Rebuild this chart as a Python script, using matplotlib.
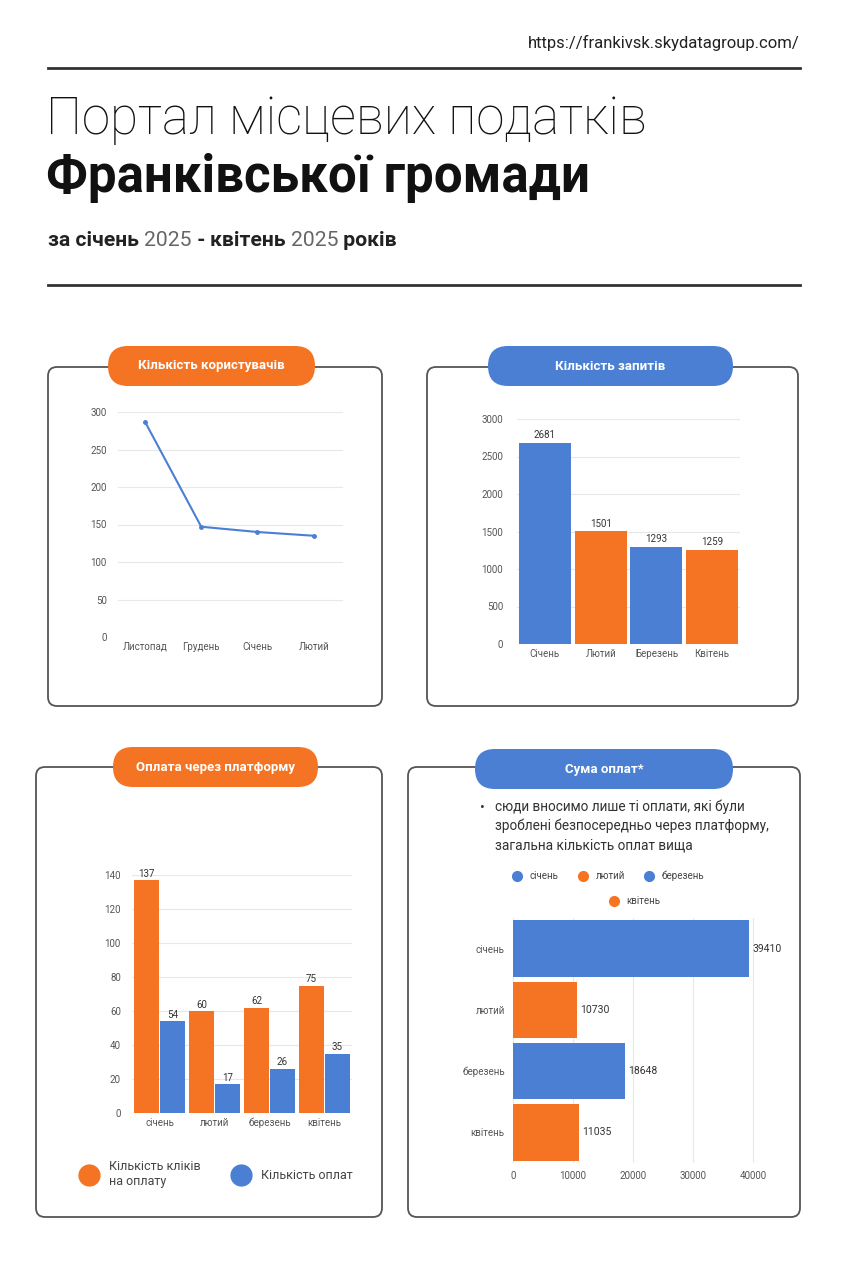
import matplotlib.pyplot as plt
from matplotlib.patches import FancyBboxPatch
from matplotlib.lines import Line2D

# data
users_months = ['Листопад', 'Грудень', 'Січень', 'Лютий']
users = [287, 147, 140, 135]

req_months = ['Січень', 'Лютий', 'Березень', 'Квітень']
requests = [2681, 1501, 1293, 1259]

pay_months = ['січень', 'лютий', 'березень', 'квітень']
clicks = [137, 60, 62, 75]
payments = [54, 17, 26, 35]

sum_months = ['січень', 'лютий', 'березень', 'квітень']
sums = [39410, 10730, 18648, 11035]

BLUE = '#4a7fd4'
ORANGE = '#f47423'
GRID = '#e8e8e8'
TICK = '#555555'
W, H = 853, 1280

plt.rcParams['font.family'] = ['Roboto', 'DejaVu Sans']

fig = plt.figure(figsize=(W / 100, H / 100), dpi=100)
bg = fig.add_axes([0, 0, 1, 1])
bg.set_xlim(0, W)
bg.set_ylim(H, 0)
bg.axis('off')


def px_axes(x0, y0, x1, y1):
    # pixel box (from top left) -> axes
    return fig.add_axes([x0 / W, 1 - y1 / H, (x1 - x0) / W, (y1 - y0) / H])


def panel(x0, y0, x1, y1, px0, px1, py0, color, title):
    bg.add_patch(FancyBboxPatch((x0, y0), x1 - x0, y1 - y0,
                                boxstyle='round,pad=0,rounding_size=9',
                                fc='white', ec='#555555', lw=1.3))
    bg.add_patch(FancyBboxPatch((px0, py0), px1 - px0, 40,
                                boxstyle='round,pad=0,rounding_size=20',
                                fc=color, ec='none'))
    bg.text((px0 + px1) / 2, py0 + 20, title, color='white', fontsize=9.5,
            fontweight='bold', ha='center', va='center')


def style(ax, axis='y'):
    for s in ax.spines.values():
        s.set_visible(False)
    ax.tick_params(length=0, labelsize=7, colors=TICK)
    ax.grid(axis=axis, color=GRID, lw=0.8)
    ax.set_axisbelow(True)


# header
bg.text(800, 43, 'https://frankivsk.skydatagroup.com/', fontsize=12,
        color='#222222', ha='right', va='center')
bg.plot([48, 800], [68, 68], color='#333333', lw=2)
bg.plot([48, 800], [285, 285], color='#333333', lw=2)
bg.text(46, 134, 'Портал місцевих податків', fontsize=36.8, fontweight='light',
        color='#111111', va='baseline')
bg.text(46, 192, 'Франківської громади', fontsize=36.8, fontweight='bold',
        color='#111111', va='baseline')

renderer = fig.canvas.get_renderer()
x = 48
parts = [('за січень ', 'bold', '#222222'), ('2025', 'normal', '#666666'),
         (' - ', 'bold', '#222222'), ('квітень ', 'bold', '#222222'),
         ('2025', 'normal', '#666666'), (' років', 'bold', '#222222')]
for s, w, c in parts:
    t = bg.text(x, 246, s, fontsize=15.2, fontweight=w, color=c, va='baseline')
    bb = t.get_window_extent(renderer)
    x += bb.width

# panels
panel(48, 367, 382, 706, 108, 315, 346, ORANGE, 'Кількість користувачів')
panel(427, 367, 798, 706, 488, 733, 346, BLUE, 'Кількість запитів')
panel(36, 767, 382, 1217, 113, 318, 747, ORANGE, 'Оплата через платформу')
panel(408, 767, 800, 1217, 475, 733, 749, BLUE, 'Сума оплат*')

# users line
ax1 = px_axes(118, 412, 343, 637)
style(ax1)
ax1.plot(range(len(users)), users, color=BLUE, lw=1.5, marker='o', ms=2.5)
ax1.set_ylim(0, 300)
ax1.set_yticks(range(0, 301, 50))
ax1.set_xlim(-0.48, 3.52)
ax1.set_xticks(range(len(users_months)))
ax1.set_xticklabels(users_months)
ax1.tick_params(axis='y', pad=8)

# requests bars
ax2 = px_axes(517, 419, 740, 644)
style(ax2)
cols = [BLUE, ORANGE, BLUE, ORANGE]
b = ax2.bar(range(len(requests)), requests, width=0.93, color=cols)
ax2.bar_label(b, fontsize=7, color='#333333', padding=2)
ax2.set_ylim(0, 3000)
ax2.set_yticks(range(0, 3001, 500))
ax2.set_xlim(-0.5, 3.5)
ax2.set_xticks(range(len(req_months)))
ax2.set_xticklabels(req_months)
ax2.tick_params(axis='y', pad=10)

# payments grouped bars
ax3 = px_axes(132, 875, 352, 1113)
style(ax3)
xs = range(len(pay_months))
b1 = ax3.bar([i - 0.235 for i in xs], clicks, width=0.45, color=ORANGE)
b2 = ax3.bar([i + 0.235 for i in xs], payments, width=0.45, color=BLUE)
ax3.bar_label(b1, fontsize=7, color='#333333', padding=1)
ax3.bar_label(b2, fontsize=7, color='#333333', padding=1)
ax3.set_ylim(0, 140)
ax3.set_yticks(range(0, 141, 20))
ax3.set_xlim(-0.5, 3.5)
ax3.set_xticks(list(xs))
ax3.set_xticklabels(pay_months)
ax3.tick_params(axis='y', pad=8)
h3 = [Line2D([], [], ls='none', marker='o', ms=15, color=ORANGE),
      Line2D([], [], ls='none', marker='o', ms=15, color=BLUE)]
fig.legend(h3, ['Кількість кліків\nна оплату', 'Кількість оплат'], ncol=2,
           loc='upper left', bbox_to_anchor=(72 / W, 1 - 1155 / H),
           frameon=False, fontsize=9, labelcolor='#444444',
           handletextpad=0.6, columnspacing=2.2, borderaxespad=0)

# sums horizontal bars
bg.text(480, 808, '•', fontsize=10, color='#333333', va='center')
bg.text(495, 799, 'сюди вносимо лише ті оплати, які були\n'
        'зроблені безпосередньо через платформу,\n'
        'загальна кількість оплат вища', fontsize=9.8, color='#333333',
        va='top', ha='left', linespacing=1.45)

ax4 = px_axes(513, 918, 783, 1163)
style(ax4, 'x')
b4 = ax4.barh(range(len(sums)), sums, height=0.92, color=cols)
ax4.bar_label(b4, fontsize=7.5, color='#333333', padding=2)
ax4.set_xlim(0, 45000)
ax4.set_xticks(range(0, 40001, 10000))
ax4.set_ylim(3.5, -0.5)
ax4.set_yticks(range(len(sum_months)))
ax4.set_yticklabels(sum_months)
ax4.tick_params(axis='x', pad=6)
ax4.tick_params(axis='y', pad=6)
h4 = [Line2D([], [], ls='none', marker='o', ms=7, color=c) for c in cols]
fig.legend(h4[:3], sum_months[:3], ncol=3, loc='center',
           bbox_to_anchor=(606 / W, 1 - 876 / H), frameon=False,
           fontsize=7, labelcolor='#444444', handletextpad=0.3,
           columnspacing=1.5)
fig.legend(h4[3:], sum_months[3:], ncol=1, loc='center',
           bbox_to_anchor=(632 / W, 1 - 901 / H), frameon=False,
           fontsize=7, labelcolor='#444444', handletextpad=0.3)

fig.savefig('out.png', dpi=100, facecolor='white')
